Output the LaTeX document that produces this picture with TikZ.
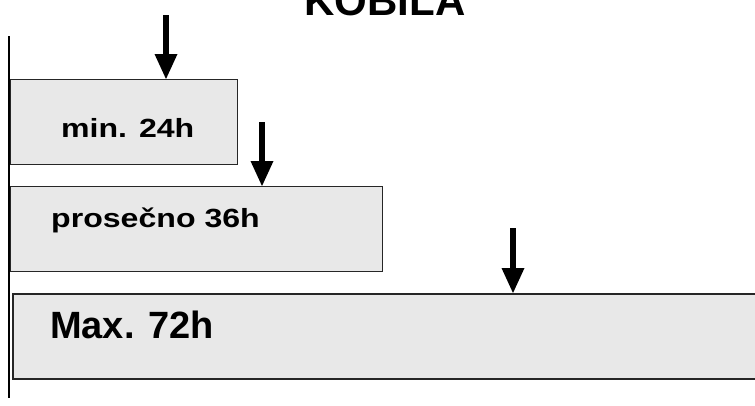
\documentclass[tikz,border=0pt]{standalone}
\usepackage{fontspec}
\setmainfont{Liberation Sans}
\newfontfamily\widesans[FakeStretch=1.22]{Liberation Sans}
\usetikzlibrary{arrows.meta}
\definecolor{boxgray}{HTML}{E8E8E8}
\tikzset{
  bar/.style={rectangle, draw=black!85, fill=boxgray, line width=1.2pt,
    anchor=north west, inner sep=0pt, minimum height=85pt},
  lbl/.style={anchor=base west, inner sep=0pt,
    font=\widesans\bfseries\fontsize{26.3}{30}\selectfont},
  pfeil/.style={line width=6.5pt,
    -{Triangle[width=23pt,length=25pt,line width=0pt]}},
}
\begin{document}
\begin{tikzpicture}[x=1pt,y=-1pt]
  \clip (0,0) rectangle (755,405);

  %% title, cut by the top edge
  \node at (385,15) [anchor=base, inner sep=0pt,
    font=\bfseries\fontsize{42}{42}\selectfont] (title) {KOBILA};

  %% time line
  \draw[line width=1.3pt] (9,36) -- (9,398);

  %% bars
  \node at (10,79) [bar, minimum width=227pt] (b24) {};
  \node at (10,186) [bar, minimum width=372pt] (b36) {};
  \node at (12,293) [bar, minimum width=820pt, line width=1.6pt] (b72) {};

  \node at (61,137) [lbl] (t24) {min. 24h};
  \node at (51,227) [lbl] (t36) {prose\v{c}no 36h};
  \node at (50,338) [anchor=base west, inner sep=0pt,
    font=\bfseries\fontsize{38}{40}\selectfont] (t72) {Max. 72h};

  %% arrows
  \coordinate (p24) at (166,15);
  \coordinate (p36) at (262,122);
  \coordinate (p72) at (513,228);
  \draw[pfeil] (p24) -- (p24 |- b24.north);
  \draw[pfeil] (p36) -- (p36 |- b36.north);
  \draw[pfeil] (p72) -- (p72 |- b72.north);
\end{tikzpicture}
\end{document}
